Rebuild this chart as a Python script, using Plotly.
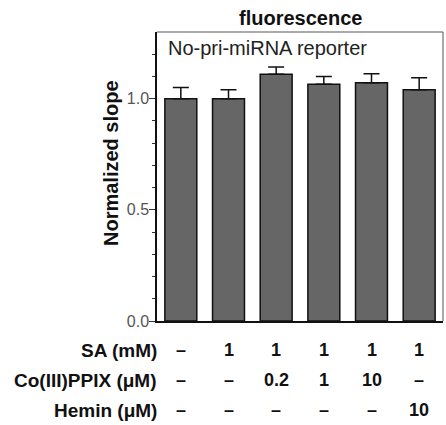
import plotly.graph_objects as go

conditions = ["c1", "c2", "c3", "c4", "c5", "c6"]
means = [1.00, 1.00, 1.11, 1.065, 1.072, 1.04]
errors = [0.05, 0.04, 0.032, 0.035, 0.04, 0.054]

row_labels = ["SA (mM)", "Co(III)PPIX (\u03bcM)", "Hemin (\u03bcM)"]
sa_vals = ["\u2013", "1", "1", "1", "1", "1"]
co_vals = ["\u2013", "\u2013", "0.2", "1", "10", "\u2013"]
hemin_vals = ["\u2013", "\u2013", "\u2013", "\u2013", "\u2013", "10"]
table_rows = [sa_vals, co_vals, hemin_vals]

FONT = "Liberation Sans, Arial, sans-serif"
PLOT_TOP, PLOT_BOT, PLOT_L, PLOT_R = 32, 321, 157, 443
W, H = 446, 425


def px_x(x):
    return (x - PLOT_L) / (PLOT_R - PLOT_L)


def px_y(y):
    return (PLOT_BOT - y) / (PLOT_BOT - PLOT_TOP)


fig = go.Figure()
fig.add_trace(go.Bar(
    x=conditions, y=means, width=0.67,
    marker=dict(color="#666666", line=dict(color="#111111", width=1.5)),
    error_y=dict(type="data", array=errors, arrayminus=[0]*6, symmetric=False,
                 color="#111111", thickness=1.5, width=8),
))

annotations = []
row_y = [350, 380, 410]
for lab, vals, yy in zip(row_labels, table_rows, row_y):
    annotations.append(dict(text="<b>%s</b>" % lab, xref="paper", yref="paper",
                            x=px_x(159), y=px_y(yy),
                            xanchor="right", yanchor="middle", showarrow=False,
                            font=dict(family=FONT, size=19, color="#111111")))
    for c, v in zip(conditions, vals):
        annotations.append(dict(text="<b>%s</b>" % v, xref="x", yref="paper", x=c, y=px_y(yy),
                                xanchor="center", yanchor="middle", showarrow=False,
                                font=dict(family=FONT, size=18, color="#111111")))

annotations.append(dict(text="No-pri-miRNA reporter", xref="paper", yref="paper",
                        x=px_x(166), y=px_y(48),
                        xanchor="left", yanchor="middle", showarrow=False,
                        font=dict(family=FONT, size=20, color="#222222")))
annotations.append(dict(text="<b>fluorescence</b>", xref="paper", yref="paper", x=0.5,
                        y=px_y(18), xanchor="center", yanchor="middle", showarrow=False,
                        font=dict(family=FONT, size=20, color="#111111")))
annotations.append(dict(text="<b>Normalized slope</b>", xref="paper", yref="paper",
                        x=px_x(111), y=px_y(163), textangle=-90,
                        xanchor="center", yanchor="middle", showarrow=False,
                        font=dict(family=FONT, size=20, color="#111111")))

fig.update_layout(
    width=W, height=H,
    margin=dict(l=PLOT_L, r=W - PLOT_R, t=PLOT_TOP, b=H - PLOT_BOT),
    plot_bgcolor="white", paper_bgcolor="white",
    showlegend=False,
    annotations=annotations,
    xaxis=dict(showticklabels=False, ticks="", showgrid=False, zeroline=False,
               showline=True, linecolor="#111111", linewidth=1.5, mirror=False),
    yaxis=dict(range=[0, 1.3], tickvals=[0, 0.5, 1.0], ticktext=["0.0", "0.5", "1.0"],
               ticks="outside", ticklen=6, tickwidth=1, tickcolor="#333333",
               ticklabelstandoff=-3,
               minor=dict(tickvals=[0.1, 0.2, 0.3, 0.4, 0.6, 0.7, 0.8, 0.9, 1.1, 1.2],
                          ticks="outside", ticklen=3, tickcolor="#333333"),
               showgrid=False, zeroline=False, showline=True, linecolor="#111111", linewidth=1.5,
               tickfont=dict(family=FONT, size=16, color="#555555")),
    shapes=[
        dict(type="line", xref="paper", yref="paper", x0=0, x1=1, y0=1, y1=1,
             line=dict(color="#555555", width=1)),
        dict(type="line", xref="paper", yref="paper", x0=1, x1=1, y0=0, y1=1,
             line=dict(color="#555555", width=1)),
    ],
)

fig.write_html("out.html", config={"displayModeBar": False},
               post_script="document.body.style.margin='0';document.body.style.padding='0';")
